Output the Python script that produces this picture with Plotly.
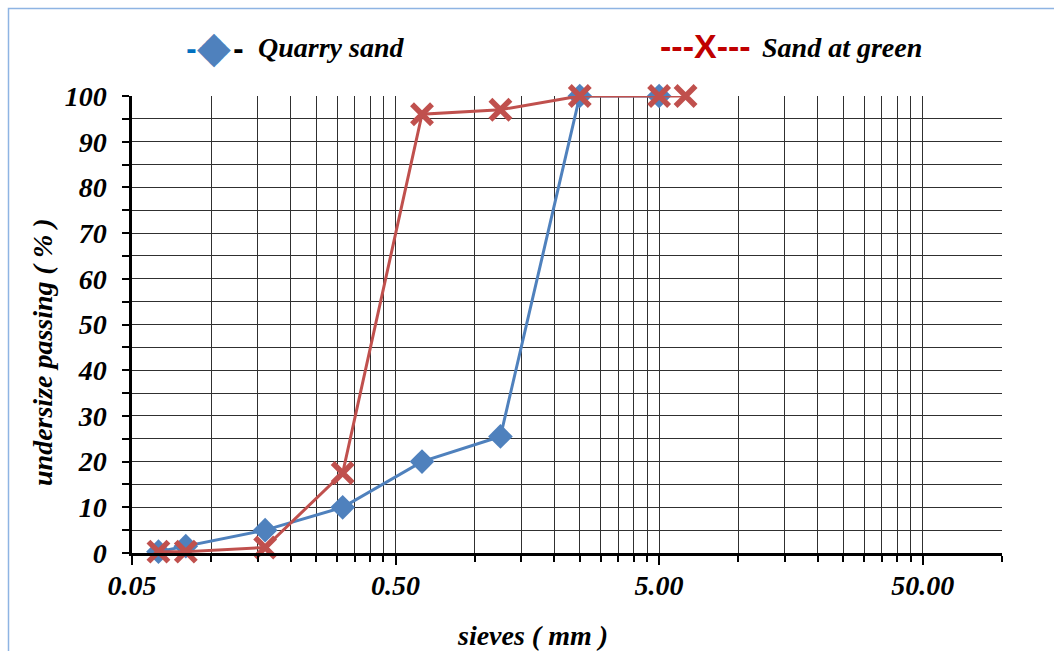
import plotly.graph_objects as go

# ---- data ----
sieve_quarry = [0.063, 0.08, 0.16, 0.315, 0.63, 1.25, 2.5, 5.0]
pass_quarry = [0.3, 1.5, 5, 10, 20, 25.5, 100, 100]

sieve_green = [0.063, 0.08, 0.16, 0.315, 0.63, 1.25, 2.5, 5.0, 6.3]
pass_green = [0.3, 0.3, 1.2, 17.5, 96, 97, 100, 100, 100]

x_major_vals = [0.05, 0.5, 5, 50]
x_major_text = ["0.05", "0.50", "5.00", "50.00"]
x_minor_vals = ([0.05 * k for k in range(2, 10)] + [0.5 * k for k in range(2, 10)]
                + [5 * k for k in range(2, 10)] + [100])

# ---- layout geometry (pixels) ----
W, H = 1054, 651
ML, MR, MT, MB = 132, 52, 96, 98
PW, PH = W - ML - MR, H - MT - MB


def px_x(p):
    return (p - ML) / PW


def px_y(p):
    return (H - MB - p) / PH


SERIF = "Liberation Serif"
TXT = dict(family=SERIF, size=28, color="black", weight="bold", style="italic")
GRID = "#303030"

fig = go.Figure()
fig.add_trace(go.Scatter(
    x=sieve_quarry, y=pass_quarry, mode="lines+markers", name="Quarry sand",
    line=dict(color="#4F81BD", width=3),
    marker=dict(symbol="diamond", size=19, color="#4F81BD"),
    cliponaxis=False, showlegend=False))
fig.add_trace(go.Scatter(
    x=sieve_green, y=pass_green, mode="lines+markers", name="Sand at green",
    line=dict(color="#C0504D", width=3),
    marker=dict(symbol="x-thin", size=20, color="#C0504D",
                line=dict(color="#C0504D", width=5.5)),
    cliponaxis=False, showlegend=False))

fig.update_xaxes(
    type="log", range=[-1.30103, 2.0],
    tickvals=x_major_vals, ticktext=x_major_text,
    ticks="outside", ticklen=9, tickwidth=2, tickcolor="black",
    showgrid=True, gridcolor=GRID, gridwidth=1,
    showline=True, linecolor="black", linewidth=3,
    tickfont=TXT, ticklabelstandoff=-4,
    minor=dict(tickvals=x_minor_vals, ticks="outside", ticklen=6, tickwidth=1.5,
               tickcolor="black", showgrid=True, gridcolor=GRID, gridwidth=1),
    zeroline=False)
fig.update_yaxes(
    range=[0, 100], dtick=10, tick0=0,
    ticks="outside", ticklen=7, tickwidth=1.5, tickcolor="black",
    showgrid=True, gridcolor=GRID, gridwidth=1,
    showline=True, linecolor="black", linewidth=2.5,
    tickfont=TXT, ticklabelstandoff=10,
    minor=dict(dtick=5, ticks="outside", ticklen=7, tickwidth=1.5,
               tickcolor="black", showgrid=True, gridcolor=GRID, gridwidth=1),
    zeroline=False)

DASH = dict(family="DejaVu Sans", size=26, weight="bold")
annotations = [
    # legend
    dict(x=px_x(191), y=px_y(50), xref="paper", yref="paper", showarrow=False,
         xanchor="center", yanchor="middle", text="-",
         font=dict(DASH, color="#0070C0")),
    dict(x=px_x(214), y=px_y(46), xref="paper", yref="paper", showarrow=False,
         xanchor="center", yanchor="middle", text="\u25C6",
         font=dict(family="DejaVu Sans", size=44, color="#4F81BD")),
    dict(x=px_x(238), y=px_y(50), xref="paper", yref="paper", showarrow=False,
         xanchor="center", yanchor="middle", text="-",
         font=dict(DASH, color="black")),
    dict(x=px_x(256), y=px_y(47), xref="paper", yref="paper", showarrow=False,
         xanchor="left", yanchor="middle", text="Quarry sand", font=TXT),
    dict(x=px_x(658), y=px_y(46), xref="paper", yref="paper", showarrow=False,
         xanchor="left", yanchor="middle", text="---X---",
         font=dict(family="Liberation Sans", size=34, color="#C00000", weight="bold")),
    dict(x=px_x(760), y=px_y(47), xref="paper", yref="paper", showarrow=False,
         xanchor="left", yanchor="middle", text="Sand at green", font=TXT),
    # axis titles
    dict(x=px_x(532), y=px_y(635), xref="paper", yref="paper", showarrow=False,
         xanchor="center", yanchor="middle", text="sieves ( mm )", font=TXT),
    dict(x=px_x(42), y=px_y(352), xref="paper", yref="paper", showarrow=False,
         xanchor="center", yanchor="middle", textangle=-90,
         text="undersize passing ( % )", font=TXT),
]

fig.update_layout(
    width=W, height=H,
    margin=dict(l=ML, r=MR, t=MT, b=MB, pad=0),
    paper_bgcolor="white", plot_bgcolor="white",
    annotations=annotations,
    shapes=[dict(type="rect", xref="paper", yref="paper",
                 x0=px_x(8.5), x1=px_x(1080), y0=px_y(680), y1=px_y(8.5),
                 line=dict(color="#8EB4E3", width=1.5), layer="below")],
)

fig.write_html("out.html", config={"displayModeBar": False},
               post_script="document.body.style.margin='0';")
